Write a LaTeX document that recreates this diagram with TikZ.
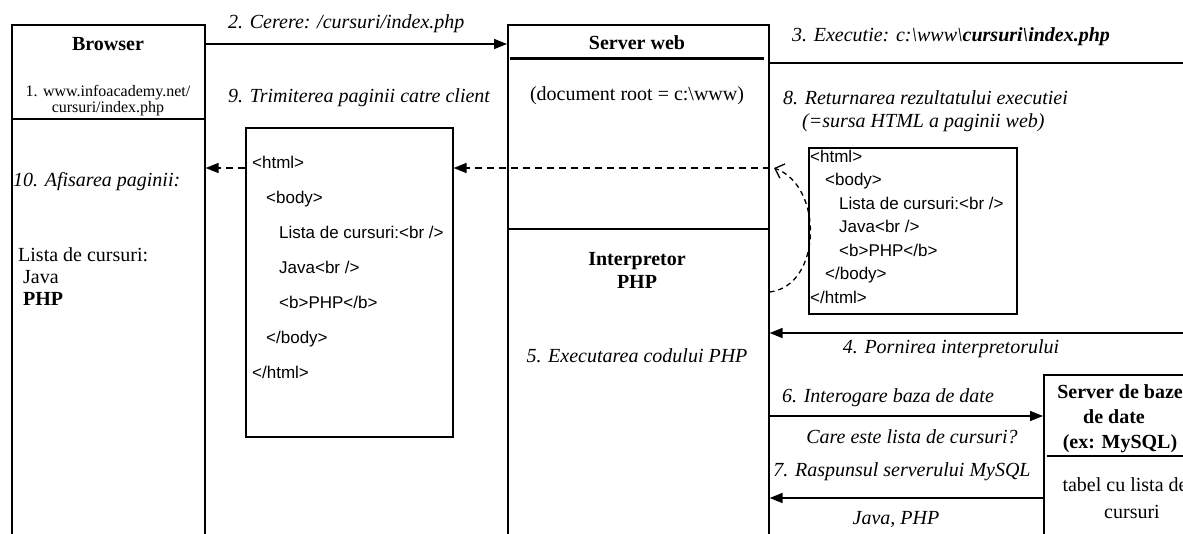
\documentclass[tikz,border=0pt]{standalone}
\usepackage{fontspec}
\setmainfont{Liberation Serif}
\newfontfamily\codefont{Liberation Sans}
\usetikzlibrary{arrows.meta}

\begin{document}
\begin{tikzpicture}[x=1pt,y=-1pt,
  box/.style={draw, line width=1.6pt, inner sep=0pt, anchor=north west},
  arr/.style={line width=1.5pt, -{Triangle[length=13pt,width=10pt]}},
  darr/.style={line width=1.6pt, dash pattern=on 7pt off 5pt, -{Triangle[length=13pt,width=10pt]}},
  lbl/.style={font=\fontsize{20}{24}\selectfont\itshape, inner sep=0pt, yshift=-3.5pt},
  txt/.style={font=\fontsize{20}{24}\selectfont, inner sep=0pt, yshift=-3.5pt},
  small/.style={font=\fontsize{16}{19}\selectfont, inner sep=0pt, yshift=-3pt},
  ttl/.style={font=\fontsize{20}{24}\selectfont\bfseries, inner sep=0pt, yshift=-3.5pt},
  code/.style={font=\codefont\fontsize{17}{20}\selectfont, inner sep=0pt, anchor=mid west},
]
\useasboundingbox (0,0) rectangle (1183,533);
\clip (0,0) rectangle (1183,533);

% --- boxes -------------------------------------------------------------
\node[box, minimum width=193pt, minimum height=540pt] (browser) at (11,24) {};
\node[box, minimum width=261pt, minimum height=540pt] (server) at (507,24) {};
\node[box, minimum width=207pt, minimum height=309pt] (page) at (245,127) {};
\node[box, minimum width=208pt, minimum height=166pt] (src) at (808,147) {};
\node[box, minimum width=200pt, minimum height=200pt] (db) at (1043,374) {};

% dividers
\draw[line width=1.6pt] (browser.west |- 0,119) -- (browser.east |- 0,119);
\draw[line width=3pt] (510,58) -- (764,58);
\draw[line width=1.6pt] (server.west |- 0,229) -- (server.east |- 0,229);
\draw[line width=2pt] (1047,456) -- (1190,456);

% --- connectors --------------------------------------------------------
\coordinate (edge3) at (1190,63);
\coordinate (edge4) at (1190,333);
\draw[arr] (browser.east |- 0,44) -- (server.west |- 0,44);
\draw[line width=2.4pt] (server.east |- edge3) -- (edge3);
\draw[arr] (edge4) -- (server.east |- edge4);
\draw[arr] (server.east |- 0,416) -- (db.west |- 0,416);
\draw[arr] (db.west |- 0,498) -- (server.east |- 0,498);
\draw[darr] (server.east |- 0,168) -- (page.east |- 0,168);
\draw[darr] (page.west |- 0,168) -- (browser.east |- 0,168);
\draw[line width=1.3pt, dash pattern=on 5pt off 4pt,
      -{Straight Barb[length=8pt,width=15pt]}]
  (server.east |- 0,292) .. controls (822,286) and (824,186) .. (774,168);

% --- browser -----------------------------------------------------------
\node[ttl, anchor=mid] (tbrowser) at (108,45) {Browser};
\node[small, anchor=mid] (url1) at (108,91) {1. www.infoacademy.net/};
\node[small, anchor=mid] (url2) at (108,107) {cursuri/index.php};
\node[lbl, anchor=mid west] (t10) at (13,181) {10. Afisarea paginii:};
\node[txt, anchor=mid west] (shown1) at (18,256) {Lista de cursuri:};
\node[txt, anchor=mid west] (shown2) at (23,278) {Java};
\node[ttl, anchor=mid west] (shown3) at (23,300) {PHP};

% --- labels between browser and server ---------------------------------
\node[lbl, anchor=mid west] (t2) at (228,23) {2. Cerere: /cursuri/index.php};
\node[lbl, anchor=mid west] (t9) at (228,97) {9. Trimiterea paginii catre client};

% --- page sent to the client -------------------------------------------
\node[code] (p1) at (252,166) {<html>};
\node[code] (p2) at (266,201) {<body>};
\node[code] (p3) at (279,236) {Lista de cursuri:<br />};
\node[code] (p4) at (279,271) {Java<br />};
\node[code] (p5) at (279,306) {<b>PHP</b>};
\node[code] (p6) at (266,341) {</body>};
\node[code] (p7) at (252,376) {</html>};

% --- web server --------------------------------------------------------
\node[ttl, anchor=mid] (tserver) at (637,44) {Server web};
\node[txt, anchor=mid] (troot) at (637,95) {(document root = c:\textbackslash www)};
\node[ttl, anchor=mid] (tint1) at (637,260) {Interpretor};
\node[ttl, anchor=mid] (tint2) at (637,283) {PHP};
\node[lbl, anchor=mid] (t5) at (637,357) {5. Executarea codului PHP};

% --- right-hand side ---------------------------------------------------
\node[lbl, anchor=mid west] (t3) at (792,36)
  {3. Executie: c:\textbackslash www\textbackslash\textbf{cursuri\textbackslash index.php}};
\node[lbl, anchor=mid west] (t8a) at (783,99) {8. Returnarea rezultatului executiei};
\node[lbl, anchor=mid west] (t8b) at (802,122) {(=sursa HTML a paginii web)};

\node[code] (s1) at (810,160) {<html>};
\node[code] (s2) at (825,183.5) {<body>};
\node[code] (s3) at (839,207) {Lista de cursuri:<br />};
\node[code] (s4) at (839,230.5) {Java<br />};
\node[code] (s5) at (839,254) {<b>PHP</b>};
\node[code] (s6) at (825,277.5) {</body>};
\node[code] (s7) at (810,301) {</html>};

\node[lbl, anchor=mid] (t4) at (951,348) {4. Pornirea interpretorului};
\node[lbl, anchor=mid] (t6) at (888,397) {6. Interogare baza de date};
\node[lbl, anchor=mid] (t6b) at (912,438) {Care este lista de cursuri?};
\node[lbl, anchor=mid] (t7) at (902,471) {7. Raspunsul serverului MySQL};
\node[lbl, anchor=mid] (t7b) at (896,519) {Java, PHP};

% --- database server ---------------------------------------------------
\node[ttl, anchor=mid] (db1) at (1120,393) {Server de baze};
\node[ttl, anchor=mid] (db2) at (1114,418) {de date};
\node[ttl, anchor=mid] (db3) at (1120,443) {(ex: MySQL)};
\node[txt, anchor=mid] (db4) at (1125,486) {tabel cu lista de};
\node[txt, anchor=mid] (db5) at (1132,513) {cursuri};
\end{tikzpicture}
\end{document}
